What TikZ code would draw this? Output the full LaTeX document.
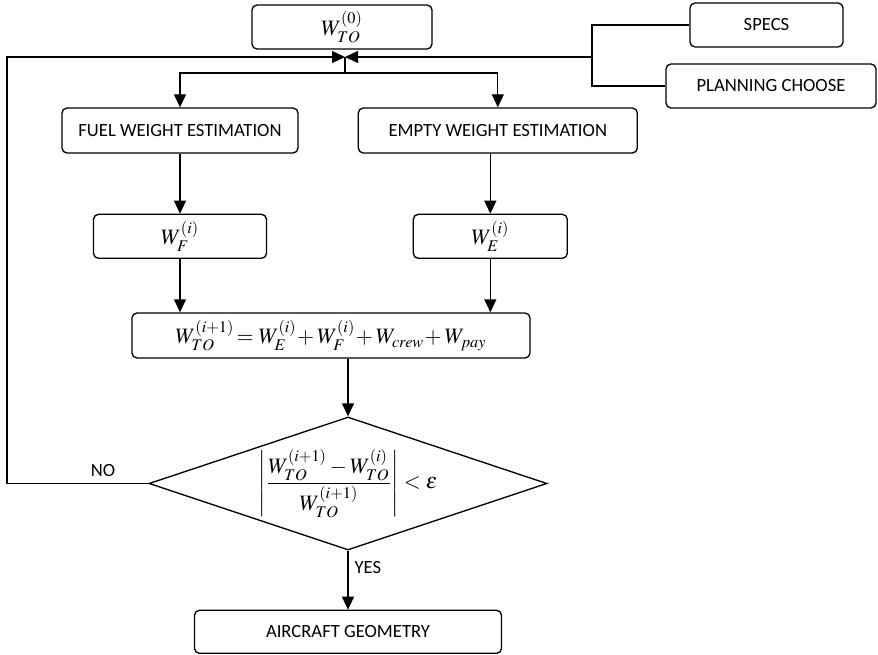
\documentclass[tikz,border=0pt]{standalone}
\usepackage{amsmath}
\usepackage{mathptmx}
\usepackage[no-math]{fontspec}
\setmainfont{Carlito}
\usepackage{tikz}
\usetikzlibrary{positioning, arrows.meta, shapes.geometric}

\begin{document}
\begin{tikzpicture}[>={Triangle[length=0.26cm,width=0.24cm]}, line width=0.75pt,
    font=\fontsize{10.6pt}{12.7pt}\selectfont,
    box/.style={draw, rounded corners=0.1cm, minimum height=0.88cm, inner sep=0pt, align=center},
    formula/.style={font=\fontsize{12.5pt}{15pt}\selectfont},
    test/.style={draw, diamond, aspect=3, inner sep=0pt, minimum width=7.96cm, minimum height=2.66cm}]
    \useasboundingbox (0,0) rectangle (17.56,-13.08);

    % Nodes
    \node[box, formula, minimum width=3.6cm] (w0) at (6.84,-0.54) {$W_{TO}^{(0)}$};
    \node[box, minimum width=3.06cm] (specs) at (15.33,-0.50) {SPECS};
    \node[box, minimum width=4.2cm] (plan) at (15.42,-1.72) {PLANNING CHOOSE};
    \node[box, minimum width=4.72cm, minimum height=0.9cm] (fuel) at (3.60,-2.61) {FUEL WEIGHT ESTIMATION};
    \node[box, minimum width=5.58cm, minimum height=0.9cm, right=1.18cm of fuel] (empty) {EMPTY WEIGHT ESTIMATION};
    \node[box, formula, minimum width=3.46cm, below=1.2cm of fuel] (wf) {$W_F^{(i)}$};
    \node[box, formula, minimum width=3.08cm, below=1.2cm of empty, xshift=-0.15cm] (we) {$W_E^{(i)}$};
    \node[box, formula, minimum width=7.96cm, minimum height=0.9cm] (sum) at (6.62,-6.71)
        {$W_{TO}^{(i+1)}\!=W_E^{(i)}\!+W_F^{(i)}\!+W_{crew}\!+W_{pay}$};
    \node[test, formula] (check) at (6.96,-9.67)
        {$\displaystyle\left|\frac{W_{TO}^{(i+1)} - W_{TO}^{(i)}}{W_{TO}^{(i+1)}}\right| < \varepsilon$};
    \node[box, minimum width=6.14cm, minimum height=0.86cm, below=1.18cm of check] (geom) {AIRCRAFT GEOMETRY};

    \coordinate (meet) at (6.90,-1.14);
    \coordinate (split) at (6.90,-1.46);
    \coordinate (bus) at (11.84,-1.14);
    \coordinate (back) at (0.14,-9.67);

    % Inputs
    \draw (specs.west) -| (plan.west -| bus) -- (plan.west);
    \draw[->] (bus) -- (meet);
    \draw[->] (check.west) -- node[pos=0.32, above] {NO} (back) |- (meet);

    % Arrows
    \draw (meet) -- (split);
    \draw[->] (split) -| (fuel.north);
    \draw[->] (split) -| (empty.north);
    \draw[->] (fuel) -- (wf);
    \draw[->] (empty.south -| we) -- (we);
    \draw[->] (wf) -- (wf |- sum.north);
    \draw[->] (we.south) -- (we.south |- sum.north);
    \draw[->] (check.north |- sum.south) -- (check.north);
    \draw[->] (check.south) -- node[pos=0.28, right] {YES} (geom.north);
\end{tikzpicture}
\end{document}
